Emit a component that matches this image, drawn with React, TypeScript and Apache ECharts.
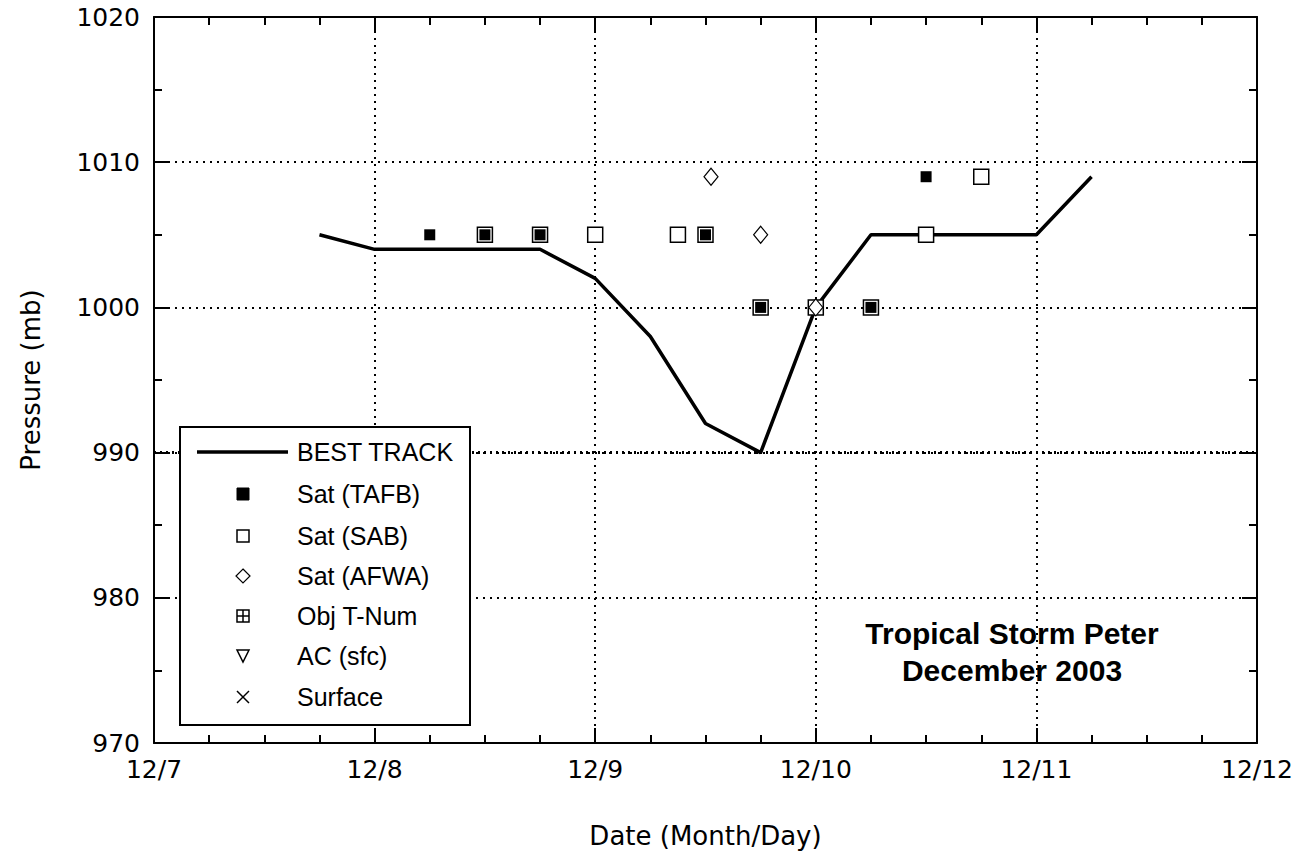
import React, { useEffect, useRef } from "react";
import * as echarts from "echarts";

// Times in days of December 2003 (e.g. 8.25 = 12/8 06Z); pressures in mb
const bestTrackDays = [7.75, 8.0, 8.25, 8.5, 8.75, 9.0, 9.25, 9.5, 9.75, 10.0, 10.25, 10.5, 10.75, 11.0, 11.25];
const bestTrackPressure = [1005, 1004, 1004, 1004, 1004, 1002, 998, 992, 990, 1000, 1005, 1005, 1005, 1005, 1009];

const tafbDays = [8.25, 8.5, 8.75, 9.5, 9.75, 10.25, 10.5];
const tafbPressure = [1005, 1005, 1005, 1005, 1000, 1000, 1009];

const sabDays = [8.5, 8.75, 9.0, 9.375, 9.5, 9.75, 10.0, 10.25, 10.5, 10.75];
const sabPressure = [1005, 1005, 1005, 1005, 1005, 1000, 1000, 1000, 1005, 1009];

const afwaDays = [9.525, 9.75, 10.0];
const afwaPressure = [1009, 1005, 1000];

const objTnumDays: number[] = [];
const objTnumPressure: number[] = [];
const acDays: number[] = [];
const acPressure: number[] = [];
const surfaceDays: number[] = [];
const surfacePressure: number[] = [];

const xTickDays = [7, 8, 9, 10, 11, 12];
const yTicks = [970, 980, 990, 1000, 1010, 1020];

const legendNames = ["BEST TRACK", "Sat (TAFB)", "Sat (SAB)", "Sat (AFWA)", "Obj T-Num", "AC (sfc)", "Surface"];
const titleLines = ["Tropical Storm Peter", "December 2003"];

const zip = (a: number[], b: number[]) => a.map((v, i) => [v, b[i]]);

const AX_FONT = "DejaVu Sans";
const TXT_FONT = "Liberation Sans";

export default function App() {
  const ref = useRef<HTMLDivElement>(null);
  useEffect(() => {
    if (!ref.current) return;
    const chart = echarts.init(ref.current, null, { renderer: "svg" });

    const gridL = 154, gridT = 17, gridW = 1103, gridH = 726;

    const mkAxisLine = () => ({ show: true, onZero: false, lineStyle: { color: "#000", width: 2 } });
    const mkTick = () => ({ show: true, inside: true, length: 15, lineStyle: { color: "#000", width: 2 } });
    const mkMinor = (n: number) => ({ show: true, splitNumber: n, length: 8, lineStyle: { color: "#000", width: 2 } });
    const mkGrid = () => ({ show: true, lineStyle: { color: "#000", width: 2, type: [2, 5] as any } });

    // Legend block
    const lgX = 180, lgY = 427, lgW = 290, lgH = 298;
    const rowY = [452, 494, 536, 576, 616, 656, 697];
    const symX = 243;
    const textX = 297;
    const legendEls: any[] = [
      { type: "rect", shape: { x: lgX, y: lgY, width: lgW, height: lgH }, style: { fill: "#fff", stroke: "#000", lineWidth: 2 }, z: 100 },
      { type: "line", shape: { x1: 197, y1: rowY[0], x2: 288, y2: rowY[0] }, style: { stroke: "#000", lineWidth: 3.5 }, z: 101 },
      { type: "rect", shape: { x: symX - 6, y: rowY[1] - 6, width: 12, height: 12 }, style: { fill: "#000", stroke: "#000", lineWidth: 1 }, z: 101 },
      { type: "rect", shape: { x: symX - 6, y: rowY[2] - 6, width: 12, height: 12 }, style: { fill: "#fff", stroke: "#000", lineWidth: 1.5 }, z: 101 },
      { type: "polygon", shape: { points: [[symX, rowY[3] - 7], [symX + 7, rowY[3]], [symX, rowY[3] + 7], [symX - 7, rowY[3]]] }, style: { fill: "#fff", stroke: "#000", lineWidth: 1.2 }, z: 101 },
      { type: "rect", shape: { x: symX - 6, y: rowY[4] - 6, width: 12, height: 12 }, style: { fill: "#fff", stroke: "#000", lineWidth: 1.5 }, z: 101 },
      { type: "line", shape: { x1: symX, y1: rowY[4] - 6, x2: symX, y2: rowY[4] + 6 }, style: { stroke: "#000", lineWidth: 1.5 }, z: 102 },
      { type: "line", shape: { x1: symX - 6, y1: rowY[4], x2: symX + 6, y2: rowY[4] }, style: { stroke: "#000", lineWidth: 1.5 }, z: 102 },
      { type: "polygon", shape: { points: [[symX - 6, rowY[5] - 6], [symX + 6, rowY[5] - 6], [symX, rowY[5] + 6]] }, style: { fill: "#fff", stroke: "#000", lineWidth: 1.5 }, z: 101 },
      { type: "line", shape: { x1: symX - 6, y1: rowY[6] - 6, x2: symX + 6, y2: rowY[6] + 6 }, style: { stroke: "#000", lineWidth: 1.5 }, z: 101 },
      { type: "line", shape: { x1: symX - 6, y1: rowY[6] + 6, x2: symX + 6, y2: rowY[6] - 6 }, style: { stroke: "#000", lineWidth: 1.5 }, z: 101 },
      ...legendNames.map((n, i) => ({
        type: "text", x: textX, y: rowY[i], z: 102,
        style: { text: n, fill: "#000", font: `25px "${TXT_FONT}"`, textVerticalAlign: "middle", verticalAlign: "middle" },
      })),
    ];

    const titleEls = titleLines.map((t, i) => ({
      type: "text", x: 1012, y: 633 + i * 37, z: 50,
      style: { text: t, fill: "#000", font: `bold 30px "${TXT_FONT}"`, align: "center", verticalAlign: "middle", textAlign: "center", textVerticalAlign: "middle" },
    }));

    chart.setOption({
      animation: false,
      backgroundColor: "#fff",
      grid: { left: gridL, top: gridT, width: gridW, height: gridH },
      xAxis: [
        {
          type: "value", position: "bottom", min: xTickDays[0], max: xTickDays[xTickDays.length - 1], interval: 1,
          axisLine: mkAxisLine(), axisTick: mkTick(), minorTick: mkMinor(4), splitLine: mkGrid(),
          axisLabel: { show: true, margin: 14, color: "#000", fontSize: 25, fontFamily: AX_FONT, formatter: (v: number) => `12/${v}` },
          name: "Date (Month/Day)", nameLocation: "middle", nameGap: 80,
          nameTextStyle: { color: "#000", fontSize: 26, fontFamily: AX_FONT },
        },
        {
          type: "value", position: "top", min: xTickDays[0], max: xTickDays[xTickDays.length - 1], interval: 1,
          axisLine: mkAxisLine(), axisTick: mkTick(), minorTick: mkMinor(4), splitLine: { show: false },
          axisLabel: { show: false },
        },
      ],
      yAxis: [
        {
          type: "value", position: "left", min: yTicks[0], max: yTicks[yTicks.length - 1], interval: 10,
          axisLine: mkAxisLine(), axisTick: mkTick(), minorTick: mkMinor(2), splitLine: mkGrid(),
          axisLabel: { show: true, margin: 14, color: "#000", fontSize: 25, fontFamily: AX_FONT, formatter: (v: number) => String(v) },
          name: "Pressure (mb)", nameLocation: "middle", nameGap: 110, nameRotate: 90,
          nameTextStyle: { color: "#000", fontSize: 26, fontFamily: AX_FONT },
        },
        {
          type: "value", position: "right", min: yTicks[0], max: yTicks[yTicks.length - 1], interval: 10,
          axisLine: mkAxisLine(), axisTick: mkTick(), minorTick: mkMinor(2), splitLine: { show: false },
          axisLabel: { show: false },
        },
      ],
      series: [
        {
          name: legendNames[0], type: "line", data: zip(bestTrackDays, bestTrackPressure),
          symbol: "none", lineStyle: { color: "#000", width: 3.5 }, z: 3,
          markLine: {
            silent: true, symbol: "none", label: { show: false },
            lineStyle: { color: "#000", width: 3, type: [2, 4] as any },
            data: [{ yAxis: 990 }],
          },
        },
        {
          name: legendNames[2], type: "scatter", data: zip(sabDays, sabPressure),
          symbol: "rect", symbolSize: 15, itemStyle: { color: "#fff", borderColor: "#000", borderWidth: 1.5, opacity: 1 }, z: 4,
        },
        {
          name: legendNames[1], type: "scatter", data: zip(tafbDays, tafbPressure),
          symbol: "rect", symbolSize: 11, itemStyle: { color: "#000", opacity: 1 }, z: 5,
        },
        {
          name: legendNames[3], type: "scatter", data: zip(afwaDays, afwaPressure),
          symbol: "diamond", symbolSize: [14, 17], itemStyle: { color: "#fff", borderColor: "#000", borderWidth: 1.2, opacity: 1 }, z: 6,
        },
        { name: legendNames[4], type: "scatter", data: zip(objTnumDays, objTnumPressure) },
        { name: legendNames[5], type: "scatter", data: zip(acDays, acPressure), symbol: "triangle", symbolRotate: 180 },
        { name: legendNames[6], type: "scatter", data: zip(surfaceDays, surfacePressure) },
      ],
      graphic: [...legendEls, ...titleEls],
    });
    return () => chart.dispose();
  }, []);
  return <div ref={ref} style={{ position: "fixed", left: 0, top: 0, width: 1305, height: 858, background: "#fff" }} />;
}
